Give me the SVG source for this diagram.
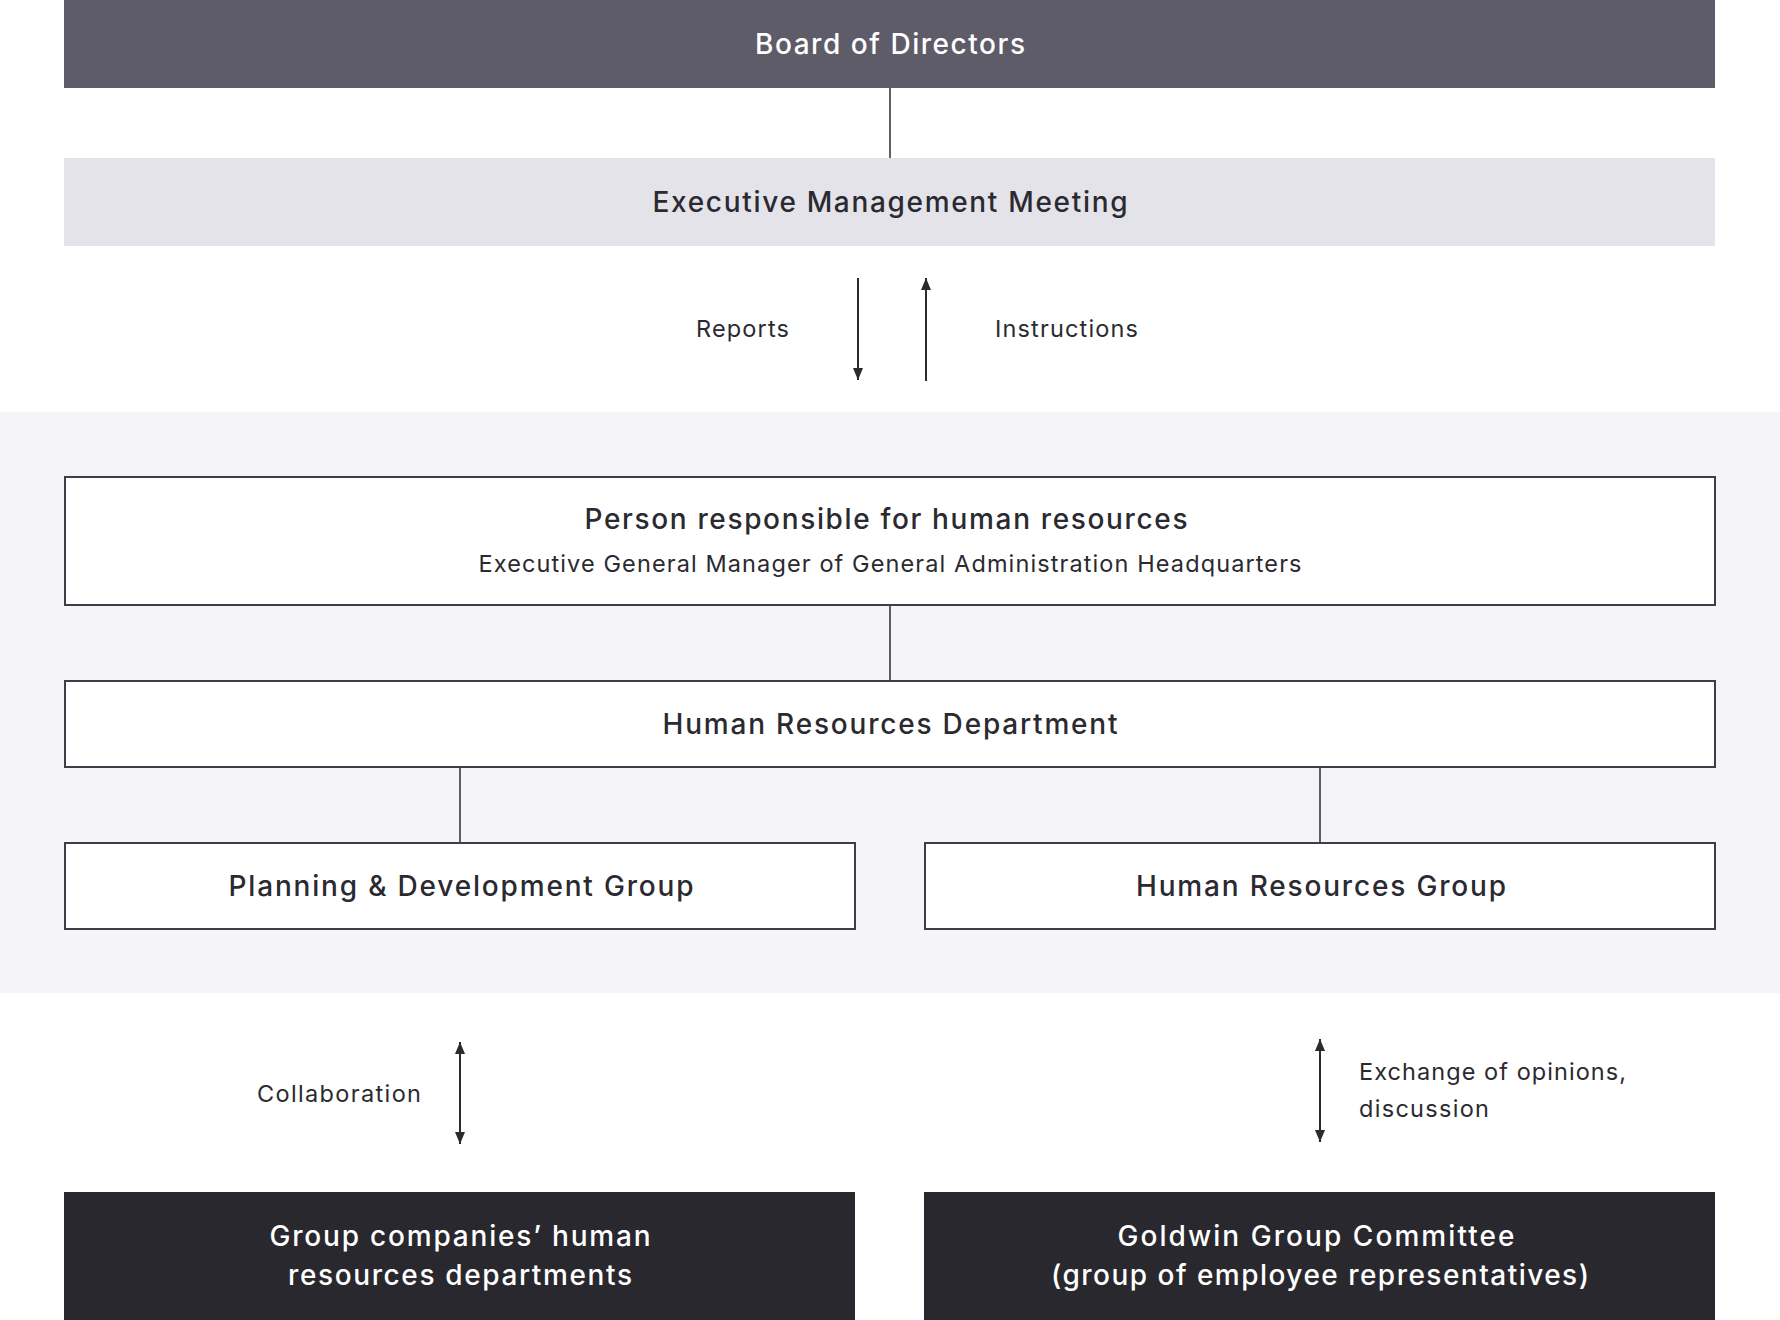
<svg xmlns="http://www.w3.org/2000/svg" width="1780" height="1320" viewBox="0 0 1780 1320">
<defs>
<marker id="arr" viewBox="0 0 12 10" refX="12" refY="5" markerWidth="12" markerHeight="10" markerUnits="userSpaceOnUse" orient="auto-start-reverse">
<path d="M0,0 L12,5 L0,10 z" fill="#2a2a30"/>
</marker>
<style>
.t{font-family:Inter,"Liberation Sans",Arial,sans-serif;font-weight:500;font-size:28px;fill:#2a2a30;text-anchor:middle}
.tw{font-family:Inter,"Liberation Sans",Arial,sans-serif;font-weight:500;font-size:28px;fill:#ffffff;text-anchor:middle}
.s{font-family:Inter,"Liberation Sans",Arial,sans-serif;font-weight:400;font-size:23.5px;fill:#2a2a30}
.box{fill:#ffffff;stroke:#3f3e48;stroke-width:2}
.ln{stroke:#2a2a30;stroke-width:1.5;fill:none}
.ar{stroke:#2a2a30;stroke-width:2;fill:none}
</style>
</defs>
<rect x="0" y="0" width="1780" height="1320" fill="#ffffff"/>
<rect x="0" y="412" width="1780" height="581" fill="#f5f5f7"/>

<g id="connectors">
<line class="ln" x1="890" y1="88" x2="890" y2="158"/>
<line class="ln" x1="890" y1="605" x2="890" y2="681"/>
<line class="ln" x1="460" y1="767" x2="460" y2="843"/>
<line class="ln" x1="1320" y1="767" x2="1320" y2="843"/>
<line class="ar" x1="858" y1="278" x2="858" y2="380" marker-end="url(#arr)"/>
<line class="ar" x1="926" y1="381" x2="926" y2="278" marker-end="url(#arr)"/>
<line class="ar" x1="460" y1="1042" x2="460" y2="1144" marker-start="url(#arr)" marker-end="url(#arr)"/>
<line class="ar" x1="1320" y1="1039" x2="1320" y2="1142" marker-start="url(#arr)" marker-end="url(#arr)"/>
<text class="s" x="696" y="337" textLength="93" lengthAdjust="spacing">Reports</text>
<text class="s" x="995" y="337" textLength="143" lengthAdjust="spacing">Instructions</text>
<text class="s" x="257" y="1102" textLength="164" lengthAdjust="spacing">Collaboration</text>
<text class="s" x="1359" y="1080" textLength="267" lengthAdjust="spacing">Exchange of opinions,</text>
<text class="s" x="1359" y="1117" textLength="130" lengthAdjust="spacing">discussion</text>
</g>

<g id="board">
<rect x="64" y="0" width="1651" height="88" fill="#5e5c68"/>
<text class="tw" x="890" y="54" textLength="270" lengthAdjust="spacing">Board of Directors</text>
</g>

<g id="exec">
<rect x="64" y="158" width="1651" height="88" fill="#e4e3ea"/>
<text class="t" x="890" y="212" textLength="475" lengthAdjust="spacing">Executive Management Meeting</text>
</g>

<g id="person">
<rect class="box" x="65" y="477" width="1650" height="128"/>
<text class="t" x="886" y="529" textLength="603" lengthAdjust="spacing">Person responsible for human resources</text>
<text class="s" x="890" y="572" text-anchor="middle" textLength="823" lengthAdjust="spacing">Executive General Manager of General Administration Headquarters</text>
</g>

<g id="hrdept">
<rect class="box" x="65" y="681" width="1650" height="86"/>
<text class="t" x="890" y="734" textLength="455" lengthAdjust="spacing">Human Resources Department</text>
</g>

<g id="planning">
<rect class="box" x="65" y="843" width="790" height="86"/>
<text class="t" x="461" y="896" textLength="465" lengthAdjust="spacing">Planning &amp; Development Group</text>
</g>

<g id="hrgroup">
<rect class="box" x="925" y="843" width="790" height="86"/>
<text class="t" x="1321" y="896" textLength="370" lengthAdjust="spacing">Human Resources Group</text>
</g>

<g id="groupcompanies">
<rect x="64" y="1192" width="791" height="128" fill="#29282e"/>
<text class="tw" x="460" y="1246" textLength="381" lengthAdjust="spacing">Group companies’ human</text>
<text class="tw" x="460" y="1285" textLength="344" lengthAdjust="spacing">resources departments</text>
</g>

<g id="committee">
<rect x="924" y="1192" width="791" height="128" fill="#29282e"/>
<text class="tw" x="1316" y="1246" textLength="397" lengthAdjust="spacing">Goldwin Group Committee</text>
<text class="tw" x="1320" y="1285" textLength="538" lengthAdjust="spacing">(group of employee representatives)</text>
</g>
</svg>
